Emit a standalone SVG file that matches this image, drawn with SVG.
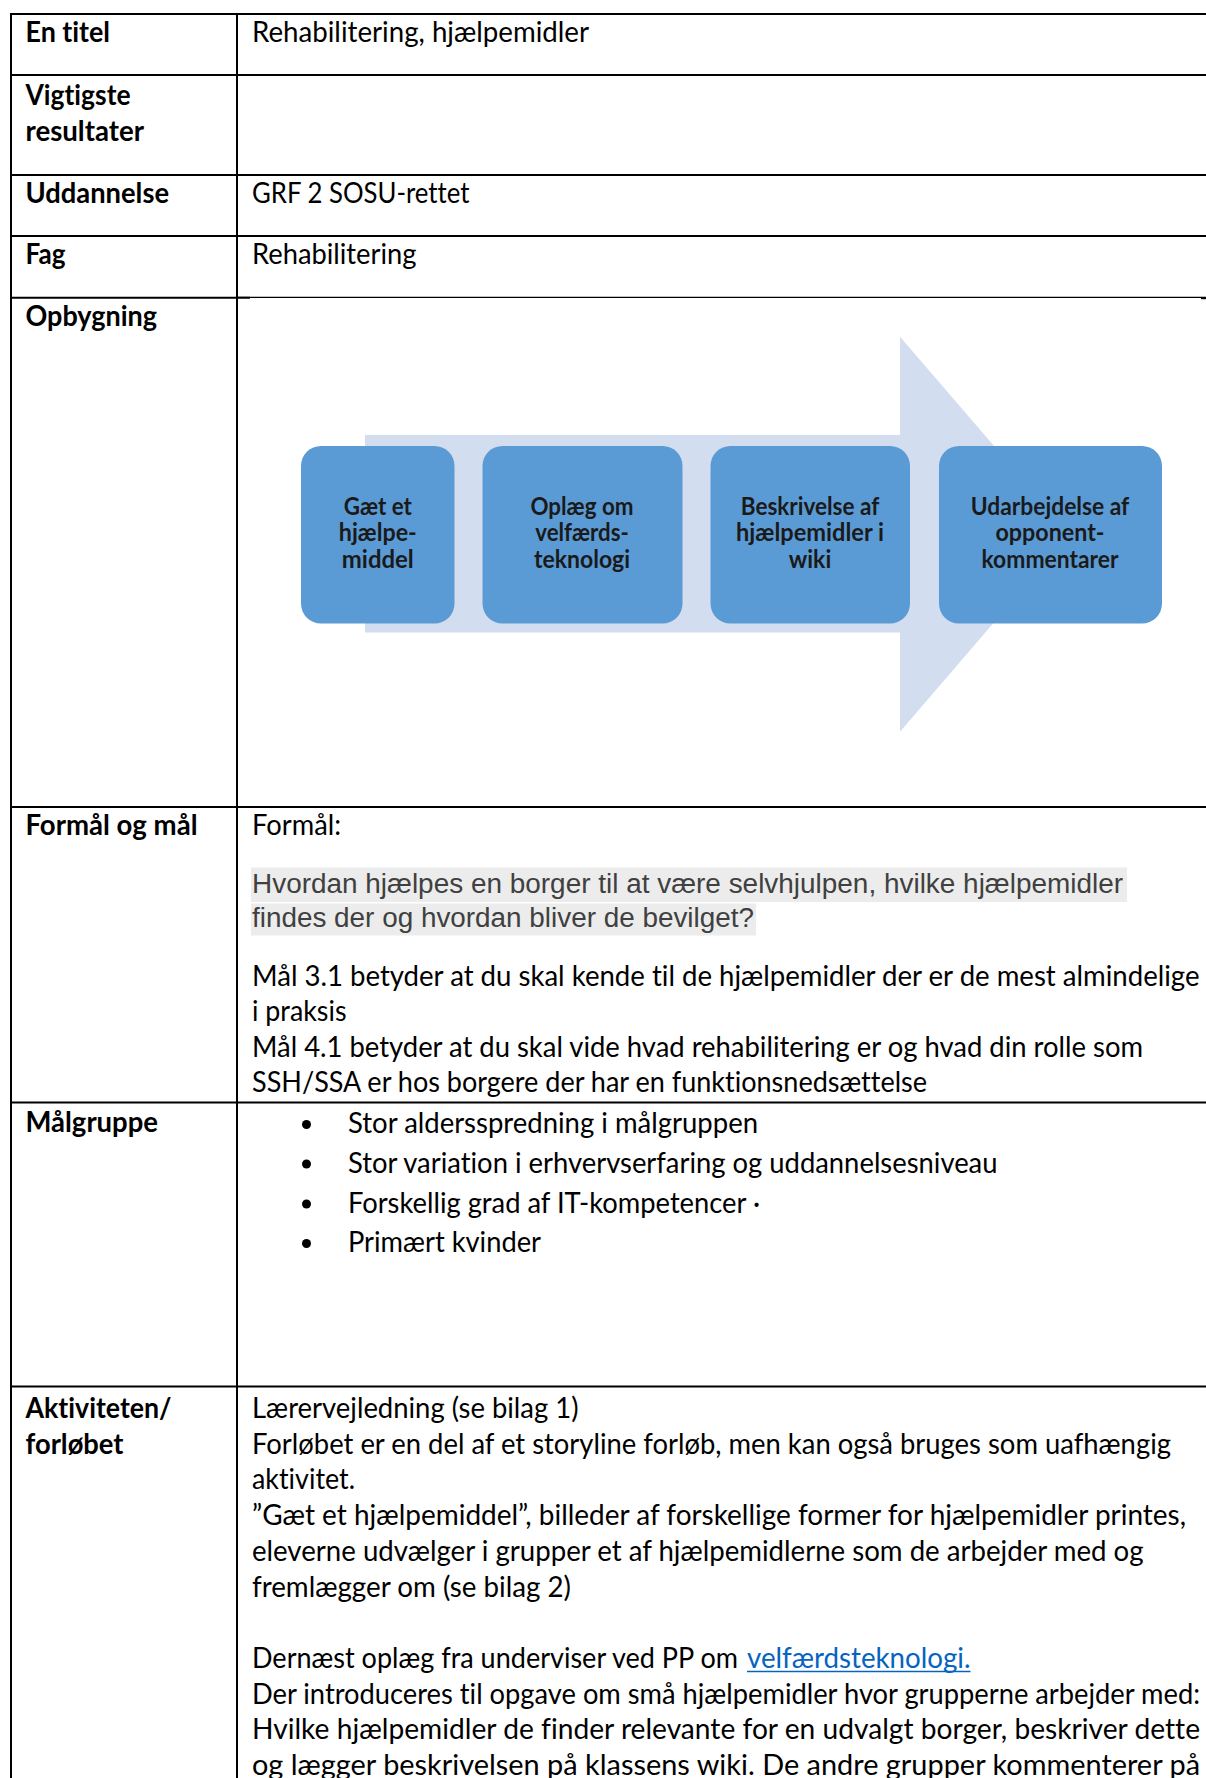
<svg xmlns="http://www.w3.org/2000/svg" width="1206" height="1778" viewBox="0 0 1206 1778">
<style>
text{font-variant-ligatures:none;font-feature-settings:"liga" 0,"clig" 0,"dlig" 0}
.bg{fill:#ffffff}
.thick{stroke:#000;stroke-width:2;fill:none}
.thin{stroke:#000;stroke-width:1.2;fill:none}
.lbl{font-family:Lato,"Liberation Sans",sans-serif;font-size:29px;font-weight:bold;fill:#000}
.txt{font-family:Lato,"Liberation Sans",sans-serif;font-size:29px;fill:#000}
.arial{font-family:"Liberation Sans",Arial,sans-serif;font-size:27px;fill:#404040}
.hl{fill:#ececec}
.link{font-family:Lato,"Liberation Sans",sans-serif;font-size:29px;fill:#0563C1}
.box{fill:#5B9BD5}
.btxt{font-family:Lato,"Liberation Sans",sans-serif;font-size:24px;font-weight:bold;fill:#1a1a1a;text-anchor:middle}
.arrow{fill:#D2DDEF}
.dot{fill:#000}
</style>
<rect class="bg" x="0" y="0" width="1206" height="1778"/>

<g id="table-grid">
  <line class="thick" x1="10" y1="14" x2="1206" y2="14"/>
  <line class="thick" x1="10" y1="75" x2="1206" y2="75"/>
  <line class="thick" x1="10" y1="175" x2="1206" y2="175"/>
  <line class="thick" x1="10" y1="236" x2="1206" y2="236"/>
  <line class="thick" x1="10" y1="297.8" x2="250" y2="297.8"/>
  <line class="thin" x1="237" y1="297.3" x2="1206" y2="297.3"/>
  <line class="thick" x1="1201" y1="298.2" x2="1206" y2="298.2"/>
  <line class="thick" x1="10" y1="807" x2="1206" y2="807"/>
  <line class="thick" x1="10" y1="1102.5" x2="1206" y2="1102.5"/>
  <line class="thick" x1="10" y1="1386.5" x2="1206" y2="1386.5"/>
  <line class="thick" x1="11" y1="13" x2="11" y2="1778"/>
  <line class="thick" x1="237" y1="13" x2="237" y2="1778"/>
</g>

<g id="row-titel">
  <text class="lbl" x="25.5" y="42" textLength="84.5" lengthAdjust="spacingAndGlyphs">En titel</text>
  <text class="txt" x="252" y="42" textLength="337" lengthAdjust="spacingAndGlyphs">Rehabilitering, hjælpemidler</text>
</g>

<g id="row-resultater">
  <text class="lbl" x="25.5" y="104.5" textLength="105" lengthAdjust="spacingAndGlyphs">Vigtigste</text>
  <text class="lbl" x="25.5" y="140.5" textLength="118.5" lengthAdjust="spacingAndGlyphs">resultater</text>
</g>

<g id="row-uddannelse">
  <text class="lbl" x="25.5" y="203" textLength="143.5" lengthAdjust="spacingAndGlyphs">Uddannelse</text>
  <text class="txt" x="252" y="203" textLength="217.5" lengthAdjust="spacingAndGlyphs">GRF 2 SOSU-rettet</text>
</g>

<g id="row-fag">
  <text class="lbl" x="25.5" y="264" textLength="40" lengthAdjust="spacingAndGlyphs">Fag</text>
  <text class="txt" x="252" y="264" textLength="164.5" lengthAdjust="spacingAndGlyphs">Rehabilitering</text>
</g>

<g id="row-opbygning">
  <text class="lbl" x="25.5" y="325.5" textLength="131.5" lengthAdjust="spacingAndGlyphs">Opbygning</text>
</g>

<g id="connectors">
  <polygon id="flow-arrow" class="arrow" points="365,435 900,435 900,336.7 1070,534 900,731.7 900,632.5 365,632.5"/>
</g>

<g id="node-gaet">
  <rect class="box" x="301" y="446" width="153.5" height="177.5" rx="20" ry="20"/>
  <text class="btxt" x="377.8" y="514.5" textLength="68" lengthAdjust="spacingAndGlyphs">Gæt et</text>
  <text class="btxt" x="377.8" y="541" textLength="78" lengthAdjust="spacingAndGlyphs">hjælpe-</text>
  <text class="btxt" x="377.8" y="567.5" textLength="72" lengthAdjust="spacingAndGlyphs">middel</text>
</g>

<g id="node-oplaeg">
  <rect class="box" x="482.5" y="446" width="200" height="177.5" rx="20" ry="20"/>
  <text class="btxt" x="582" y="514.5" textLength="103" lengthAdjust="spacingAndGlyphs">Oplæg om</text>
  <text class="btxt" x="582" y="541" textLength="93.5" lengthAdjust="spacingAndGlyphs">velfærds-</text>
  <text class="btxt" x="582" y="567.5" textLength="96" lengthAdjust="spacingAndGlyphs">teknologi</text>
</g>

<g id="node-beskrivelse">
  <rect class="box" x="710.5" y="446" width="199.5" height="177.5" rx="20" ry="20"/>
  <text class="btxt" x="810" y="514.5" textLength="138.5" lengthAdjust="spacingAndGlyphs">Beskrivelse af</text>
  <text class="btxt" x="810" y="541" textLength="148" lengthAdjust="spacingAndGlyphs">hjælpemidler i</text>
  <text class="btxt" x="810" y="567.5" textLength="42.5" lengthAdjust="spacingAndGlyphs">wiki</text>
</g>

<g id="node-udarbejdelse">
  <rect class="box" x="939" y="446" width="223" height="177.5" rx="20" ry="20"/>
  <text class="btxt" x="1050" y="514.5" textLength="158.5" lengthAdjust="spacingAndGlyphs">Udarbejdelse af</text>
  <text class="btxt" x="1050" y="541" textLength="109" lengthAdjust="spacingAndGlyphs">opponent-</text>
  <text class="btxt" x="1050" y="567.5" textLength="137" lengthAdjust="spacingAndGlyphs">kommentarer</text>
</g>

<g id="row-formaal">
  <text class="lbl" x="25.5" y="835" textLength="172" lengthAdjust="spacingAndGlyphs">Formål og mål</text>
  <text class="txt" x="252" y="835" textLength="89" lengthAdjust="spacingAndGlyphs">Formål:</text>
  <rect class="hl" x="251" y="867.5" width="876" height="34.5"/>
  <rect class="hl" x="251" y="903.5" width="505" height="32"/>
  <text class="arial" x="252" y="893" textLength="871" lengthAdjust="spacingAndGlyphs">Hvordan hjælpes en borger til at være selvhjulpen, hvilke hjælpemidler</text>
  <text class="arial" x="252" y="927" textLength="502" lengthAdjust="spacingAndGlyphs">findes der og hvordan bliver de bevilget?</text>
  <text class="txt" x="252" y="985.5" textLength="947.5" lengthAdjust="spacingAndGlyphs">Mål 3.1 betyder at du skal kende til de hjælpemidler der er de mest almindelige</text>
  <text class="txt" x="252" y="1021" textLength="94.5" lengthAdjust="spacingAndGlyphs">i praksis</text>
  <text class="txt" x="252" y="1056.5" textLength="891" lengthAdjust="spacingAndGlyphs">Mål 4.1 betyder at du skal vide hvad rehabilitering er og hvad din rolle som</text>
  <text class="txt" x="252" y="1092" textLength="675" lengthAdjust="spacingAndGlyphs">SSH/SSA er hos borgere der har en funktionsnedsættelse</text>
</g>

<g id="row-maalgruppe">
  <text class="lbl" x="25.5" y="1132" textLength="132.5" lengthAdjust="spacingAndGlyphs">Målgruppe</text>
  <circle class="dot" cx="306.5" cy="1124.5" r="4.5"/>
  <circle class="dot" cx="306.5" cy="1164" r="4.5"/>
  <circle class="dot" cx="306.5" cy="1204" r="4.5"/>
  <circle class="dot" cx="306.5" cy="1243.5" r="4.5"/>
  <text class="txt" x="348" y="1133" textLength="410" lengthAdjust="spacingAndGlyphs">Stor aldersspredning i målgruppen</text>
  <text class="txt" x="348" y="1172.5" textLength="649.5" lengthAdjust="spacingAndGlyphs">Stor variation i erhvervserfaring og uddannelsesniveau</text>
  <text class="txt" x="348" y="1212.5" textLength="412" lengthAdjust="spacingAndGlyphs">Forskellig grad af IT-kompetencer ·</text>
  <text class="txt" x="348" y="1252" textLength="193" lengthAdjust="spacingAndGlyphs">Primært kvinder</text>
</g>

<g id="row-aktiviteten">
  <text class="lbl" x="25.5" y="1417.5" textLength="146" lengthAdjust="spacingAndGlyphs">Aktiviteten/</text>
  <text class="lbl" x="25.5" y="1453.5" textLength="98" lengthAdjust="spacingAndGlyphs">forløbet</text>
  <text class="txt" x="252" y="1418" textLength="326.5" lengthAdjust="spacingAndGlyphs">Lærervejledning (se bilag 1)</text>
  <text class="txt" x="252" y="1453.7" textLength="919" lengthAdjust="spacingAndGlyphs">Forløbet er en del af et storyline forløb, men kan også bruges som uafhængig</text>
  <text class="txt" x="252" y="1489.4" textLength="103" lengthAdjust="spacingAndGlyphs">aktivitet.</text>
  <text class="txt" x="252" y="1525" textLength="934" lengthAdjust="spacingAndGlyphs">”Gæt et hjælpemiddel”, billeder af forskellige former for hjælpemidler printes,</text>
  <text class="txt" x="252" y="1560.8" textLength="891.5" lengthAdjust="spacingAndGlyphs">eleverne udvælger i grupper et af hjælpemidlerne som de arbejder med og</text>
  <text class="txt" x="252" y="1596.5" textLength="319" lengthAdjust="spacingAndGlyphs">fremlægger om (se bilag 2)</text>
  <text class="txt" x="252" y="1668" textLength="486" lengthAdjust="spacingAndGlyphs">Dernæst oplæg fra underviser ved PP om</text>
  <text class="link" x="747" y="1668" textLength="223.5" lengthAdjust="spacingAndGlyphs">velfærdsteknologi.</text>
  <line x1="747" y1="1671.5" x2="970.5" y2="1671.5" stroke="#0563C1" stroke-width="1.6"/>
  <text class="txt" x="252" y="1703.6" textLength="948" lengthAdjust="spacingAndGlyphs">Der introduceres til opgave om små hjælpemidler hvor grupperne arbejder med:</text>
  <text class="txt" x="252" y="1739.3" textLength="948" lengthAdjust="spacingAndGlyphs">Hvilke hjælpemidler de finder relevante for en udvalgt borger, beskriver dette</text>
  <text class="txt" x="252" y="1775" textLength="948" lengthAdjust="spacingAndGlyphs">og lægger beskrivelsen på klassens wiki. De andre grupper kommenterer på</text>
</g>
</svg>
